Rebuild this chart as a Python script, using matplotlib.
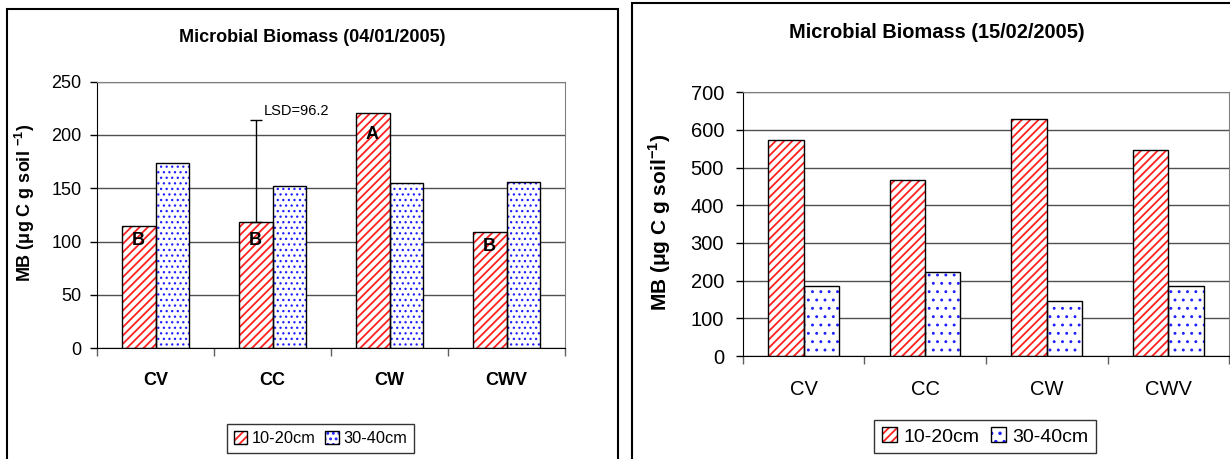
import matplotlib
matplotlib.use("Agg")
import matplotlib.pyplot as plt
from matplotlib.patches import Rectangle
import numpy as np

plt.rcParams['font.family'] = ['Liberation Sans', 'DejaVu Sans']
plt.rcParams['mathtext.fontset'] = 'custom'
plt.rcParams['mathtext.rm'] = 'Liberation Sans'
plt.rcParams['mathtext.bf'] = 'Liberation Sans:bold'
plt.rcParams['hatch.linewidth'] = 1.3

# data
treatments = ['CV', 'CC', 'CW', 'CWV']
depths = ['10-20cm', '30-40cm']

jan_shallow = [115, 118, 221, 109]
jan_deep = [174, 152, 155, 156]
jan_letters = ['B', 'B', 'A', 'B']
jan_letter_y = [101, 101, 200, 95]
lsd_value = 96.2

feb_shallow = [573, 466, 630, 547]
feb_deep = [185, 222, 145, 185]

RED = '#ff2020'
BLUE = '#2020ff'
W = 0.29


def draw_bars(ax, x, vals, hatch, color, hlw=1.3):
    # hatch layer, then a black outline on top
    with plt.rc_context({'hatch.linewidth': hlw}):
        h = ax.bar(x, vals, W, color='white', edgecolor=color, hatch=hatch, lw=0, zorder=2)
    o = ax.bar(x, vals, W, fill=False, edgecolor='black', lw=1, zorder=3)
    return (h[0], o[0])


def style_axes(ax, ymax, step, tick_size, cat_size, cat_weight, ypad, xpad):
    ax.set_xlim(-0.5, len(treatments) - 0.5)
    ax.set_ylim(0, ymax)
    ax.set_yticks(np.arange(0, ymax + 1, step))
    ax.grid(axis='y', color='#505050', lw=1, zorder=0)
    ax.set_axisbelow(True)
    for s in ['top', 'right']:
        ax.spines[s].set_color('#808080')
    for s in ['left', 'bottom']:
        ax.spines[s].set_color('black')
    ax.set_xticks(range(len(treatments)))
    ax.set_xticklabels(treatments, fontsize=cat_size, fontweight=cat_weight)
    ax.set_xticks(np.arange(-0.5, len(treatments)), minor=True)
    ax.tick_params(axis='x', which='major', length=0, pad=xpad)
    ax.tick_params(axis='x', which='minor', length=6, width=1, color='#606060', direction='out')
    ax.tick_params(axis='y', length=5, width=1, labelsize=tick_size, pad=ypad)


fig = plt.figure(figsize=(12.3, 4.59), dpi=100)

# outer frames of the two chart objects
fig.add_artist(Rectangle((7 / 1230, -0.01), 611 / 1230, 1 - 9 / 459 + 0.01,
                         transform=fig.transFigure, fill=False, ec='black', lw=1.5))
fig.add_artist(Rectangle((632 / 1230, -0.01), 0.5, 1 - 3 / 459 + 0.01,
                         transform=fig.transFigure, fill=False, ec='black', lw=1.5))

x = np.arange(len(treatments))

# ---- left chart
ax1 = fig.add_axes([97 / 1230, 1 - 348.2 / 459, 468 / 1230, 266.5 / 459])
h1 = draw_bars(ax1, x - W / 2, jan_shallow, '////', RED)
h2 = draw_bars(ax1, x + W / 2, jan_deep, '...', BLUE, 0.9)
style_axes(ax1, 250, 50, 13, 13, 'bold', 6, 17)

for i, (lab, ly) in enumerate(zip(jan_letters, jan_letter_y)):
    ax1.text(x[i] - W / 2, ly, lab, ha='center', va='center',
             fontsize=13, fontweight='bold', zorder=4)

ax1.errorbar(x[1] - W / 2, jan_shallow[1], yerr=[[0], [lsd_value]], fmt='none',
             ecolor='black', elinewidth=1, capsize=4, capthick=1, zorder=4)
ax1.annotate('LSD=%.1f' % lsd_value, (x[1] - W / 2, jan_shallow[1] + lsd_value),
             xytext=(6, 1), textcoords='offset points', fontsize=10.5, va='bottom')

fig.text(312.5 / 1230, 1 - 37 / 459, 'Microbial Biomass (04/01/2005)',
         ha='center', va='center', fontsize=13, fontweight='bold')
fig.text(25 / 1230, 1 - 203 / 459, r'MB ($\mathbf{\mu}$g C g soil $^{\mathbf{-1}}$)',
         ha='center', va='center', rotation=90, fontsize=13, fontweight='bold')

fig.legend([h1, h2], depths, loc='center', bbox_to_anchor=(320.5 / 1230, 1 - 438.5 / 459),
           ncol=2, fontsize=11.8, frameon=True, fancybox=False, edgecolor='black',
           handlelength=0.8, handleheight=0.8, handletextpad=0.3, columnspacing=0.6,
           borderpad=0.4, borderaxespad=0)

# ---- right chart
ax2 = fig.add_axes([742.7 / 1230, 1 - 356 / 459, 486.5 / 1230, 263.7 / 459])
g1 = draw_bars(ax2, x - W / 2, feb_shallow, '////', RED)
g2 = draw_bars(ax2, x + W / 2, feb_deep, '..', BLUE, 0.9)
style_axes(ax2, 700, 100, 14.5, 14.5, 'normal', 8.4, 17)

fig.text(937 / 1230, 1 - 33 / 459, 'Microbial Biomass (15/02/2005)',
         ha='center', va='center', fontsize=14.4, fontweight='bold')
fig.text(660 / 1230, 1 - 222 / 459, r'MB ($\mathbf{\mu}$g C g soil$^{\mathbf{-1}}$)',
         ha='center', va='center', rotation=90, fontsize=15, fontweight='bold')

fig.legend([g1, g2], depths, loc='center', bbox_to_anchor=(985 / 1230, 1 - 436.5 / 459),
           ncol=2, fontsize=14, frameon=True, fancybox=False, edgecolor='black',
           handlelength=0.8, handleheight=0.8, handletextpad=0.3, columnspacing=0.6,
           borderpad=0.4, borderaxespad=0)

fig.savefig('out.png', dpi=100)
